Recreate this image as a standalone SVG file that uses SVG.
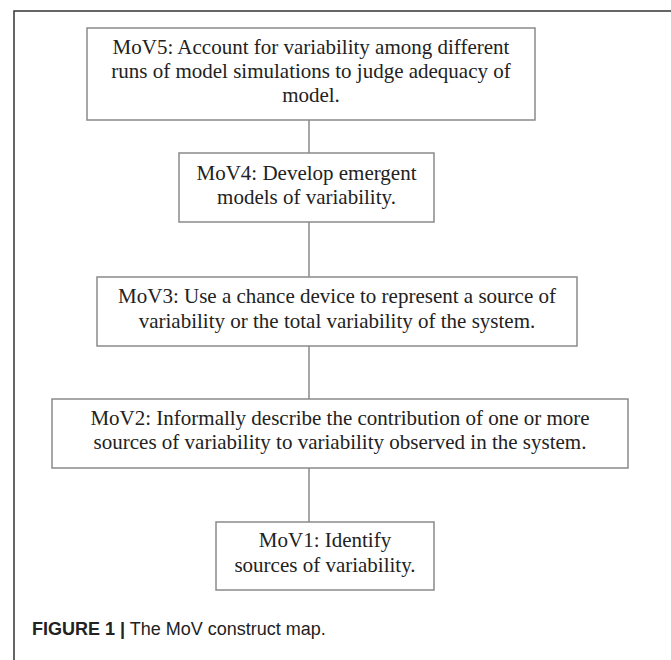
<svg xmlns="http://www.w3.org/2000/svg" width="671" height="660" viewBox="0 0 671 660">
<style>
.box{fill:#fff;stroke:#8a8a8a;stroke-width:1.5}
.t{font-family:"Liberation Serif","Times New Roman",serif;font-size:21px;fill:#222;text-anchor:middle}
.c{stroke:#777;stroke-width:1.3;fill:none}
.cap{font-family:"Liberation Sans",Arial,sans-serif;font-size:18px;fill:#222}
</style>
<rect x="0" y="0" width="671" height="660" fill="#fff"/>
<path d="M14 660 V11 H671" fill="none" stroke="#333" stroke-width="1.5"/>
<g id="connectors">
<line class="c" x1="309" y1="120" x2="309" y2="153"/>
<line class="c" x1="309" y1="222" x2="309" y2="277"/>
<line class="c" x1="309" y1="346" x2="309" y2="399"/>
<line class="c" x1="309" y1="468" x2="309" y2="522"/>
</g>
<g id="mov5">
<rect class="box" x="87" y="28" width="448" height="92"/>
<text class="t" x="311" y="54">MoV5: Account for variability among different</text>
<text class="t" x="311" y="78">runs of model simulations to judge adequacy of</text>
<text class="t" x="311" y="102">model.</text>
</g>
<g id="mov4">
<rect class="box" x="179" y="153" width="255" height="69"/>
<text class="t" x="306.5" y="180">MoV4: Develop emergent</text>
<text class="t" x="306.5" y="204">models of variability.</text>
</g>
<g id="mov3">
<rect class="box" x="97" y="277" width="480" height="69"/>
<text class="t" x="337" y="303">MoV3: Use a chance device to represent a source of</text>
<text class="t" x="337" y="328">variability or the total variability of the system.</text>
</g>
<g id="mov2">
<rect class="box" x="52" y="399" width="576" height="69"/>
<text class="t" x="340" y="425">MoV2: Informally describe the contribution of one or more</text>
<text class="t" x="340" y="449">sources of variability to variability observed in the system.</text>
</g>
<g id="mov1">
<rect class="box" x="216" y="522" width="218" height="68"/>
<text class="t" x="325" y="547">MoV1: Identify</text>
<text class="t" x="325" y="572">sources of variability.</text>
</g>
<text class="cap" x="32" y="635"><tspan font-weight="bold">FIGURE 1 |</tspan> The MoV construct map.</text>
</svg>
